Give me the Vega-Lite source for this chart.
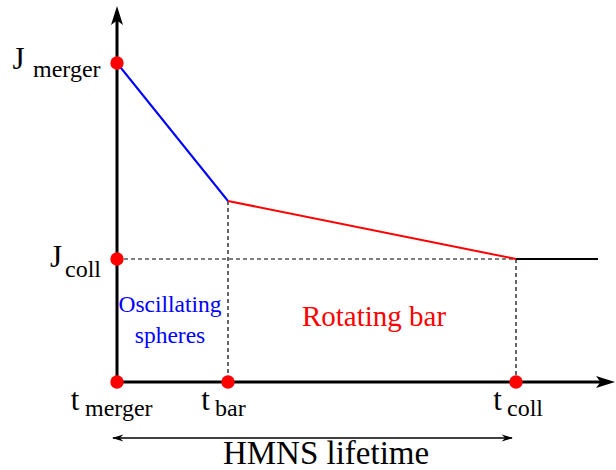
{
  "$schema": "https://vega.github.io/schema/vega-lite/v6.json",
  "width": 616,
  "height": 470,
  "padding": 0,
  "autosize": "none",
  "background": "white",
  "config": {"view": {"stroke": null}},
  "datasets": {
    "axes": [{"x": 0, "y": 0, "x2": 0, "y2": 362}, {"x": 0, "y": 0, "x2": 486, "y2": 0}],
    "dashed": [{"x": 0, "y": 123, "x2": 399, "y2": 123}, {"x": 111, "y": 181, "x2": 111, "y2": 0}, {"x": 399, "y": 123, "x2": 399, "y2": 0}],
    "oscillating": [{"x": 0, "y": 319, "x2": 111, "y2": 181}],
    "bar": [{"x": 111, "y": 181, "x2": 399, "y2": 123}],
    "after": [{"x": 399, "y": 123, "x2": 481, "y2": 123}],
    "lifetime": [{"x": -4, "y": -56, "x2": 395, "y2": -56}],
    "headUp": [{"x": 0, "y": 366}],
    "headRight": [{"x": 488, "y": 0}],
    "smallLeft": [{"x": 1, "y": -56}],
    "smallRight": [{"x": 390, "y": -56}],
    "dots": [{"t": 0, "J": 319}, {"t": 0, "J": 123}, {"t": 0, "J": 0}, {"t": 111, "J": 0}, {"t": 399, "J": 0}],
    "mainLabels": [
      {"label": "J", "x": -98.5, "y": 313},
      {"label": "J", "x": -61, "y": 115},
      {"label": "t", "x": -42, "y": -28},
      {"label": "t", "x": 88.5, "y": -28},
      {"label": "t", "x": 380.5, "y": -28}
    ],
    "subLabels": [
      {"label": "merger", "x": -84, "y": 305},
      {"label": "coll", "x": -52, "y": 105},
      {"label": "merger", "x": -32, "y": -34},
      {"label": "bar", "x": 98, "y": -34},
      {"label": "coll", "x": 390, "y": -34}
    ],
    "lifetimeText": [{"label": "HMNS lifetime", "x": 209, "y": -82}],
    "barText": [{"label": "Rotating bar", "x": 257, "y": 56}],
    "oscText": [{"label": "Oscillating", "x": 53, "y": 70}, {"label": "spheres", "x": 53, "y": 39}]
  },
  "encoding": {
    "x": {"field": "x", "type": "quantitative", "scale": {"domain": [-117, 499], "nice": false, "zero": false}, "axis": null},
    "y": {"field": "y", "type": "quantitative", "scale": {"domain": [-88, 382], "nice": false, "zero": false}, "axis": null}
  },
  "layer": [
    {
      "data": {"name": "dashed"},
      "mark": {"type": "rule", "color": "black", "strokeWidth": 1.2, "strokeDash": [4, 3]},
      "encoding": {"x2": {"field": "x2"}, "y2": {"field": "y2"}}
    },
    {
      "data": {"name": "axes"},
      "mark": {"type": "rule", "color": "black", "strokeWidth": 3},
      "encoding": {"x2": {"field": "x2"}, "y2": {"field": "y2"}}
    },
    {
      "data": {"name": "oscillating"},
      "mark": {"type": "rule", "color": "#0000ff", "strokeWidth": 2},
      "encoding": {"x2": {"field": "x2"}, "y2": {"field": "y2"}}
    },
    {
      "data": {"name": "bar"},
      "mark": {"type": "rule", "color": "#ff0000", "strokeWidth": 2},
      "encoding": {"x2": {"field": "x2"}, "y2": {"field": "y2"}}
    },
    {
      "data": {"name": "after"},
      "mark": {"type": "rule", "color": "black", "strokeWidth": 2},
      "encoding": {"x2": {"field": "x2"}, "y2": {"field": "y2"}}
    },
    {
      "data": {"name": "lifetime"},
      "mark": {"type": "rule", "color": "black", "strokeWidth": 1.3},
      "encoding": {"x2": {"field": "x2"}, "y2": {"field": "y2"}}
    },
    {
      "data": {"name": "headUp"},
      "mark": {"type": "point", "filled": true, "color": "black", "opacity": 1, "size": 400, "shape": "M0,-1 L0.6,0.9 L0,0.45 L-0.6,0.9 Z", "angle": 0}
    },
    {
      "data": {"name": "headRight"},
      "mark": {"type": "point", "filled": true, "color": "black", "opacity": 1, "size": 400, "shape": "M0,-1 L0.6,0.9 L0,0.45 L-0.6,0.9 Z", "angle": 90}
    },
    {
      "data": {"name": "smallLeft"},
      "mark": {"type": "point", "filled": true, "color": "black", "opacity": 1, "size": 144, "shape": "M0,-1 L0.6,0.9 L0,0.3 L-0.6,0.9 Z", "angle": 270}
    },
    {
      "data": {"name": "smallRight"},
      "mark": {"type": "point", "filled": true, "color": "black", "opacity": 1, "size": 144, "shape": "M0,-1 L0.6,0.9 L0,0.3 L-0.6,0.9 Z", "angle": 90}
    },
    {
      "data": {"name": "dots"},
      "mark": {"type": "circle", "color": "#ff0000", "opacity": 1, "size": 180},
      "encoding": {
        "x": {"field": "t", "type": "quantitative"},
        "y": {"field": "J", "type": "quantitative"}
      }
    },
    {
      "data": {"name": "mainLabels"},
      "mark": {"type": "text", "font": "Liberation Serif", "fontSize": 31, "align": "center", "baseline": "alphabetic", "color": "black"},
      "encoding": {"text": {"field": "label"}}
    },
    {
      "data": {"name": "subLabels"},
      "mark": {"type": "text", "font": "Liberation Serif", "fontSize": 24, "align": "left", "baseline": "alphabetic", "color": "black"},
      "encoding": {"text": {"field": "label"}}
    },
    {
      "data": {"name": "lifetimeText"},
      "mark": {"type": "text", "font": "Liberation Serif", "fontSize": 33, "align": "center", "baseline": "alphabetic", "color": "black"},
      "encoding": {"text": {"field": "label"}}
    },
    {
      "data": {"name": "barText"},
      "mark": {"type": "text", "font": "Liberation Serif", "fontSize": 29, "align": "center", "baseline": "alphabetic", "color": "#ff0000"},
      "encoding": {"text": {"field": "label"}}
    },
    {
      "data": {"name": "oscText"},
      "mark": {"type": "text", "font": "Liberation Serif", "fontSize": 23.5, "align": "center", "baseline": "alphabetic", "color": "#0000ff"},
      "encoding": {"text": {"field": "label"}}
    }
  ]
}
